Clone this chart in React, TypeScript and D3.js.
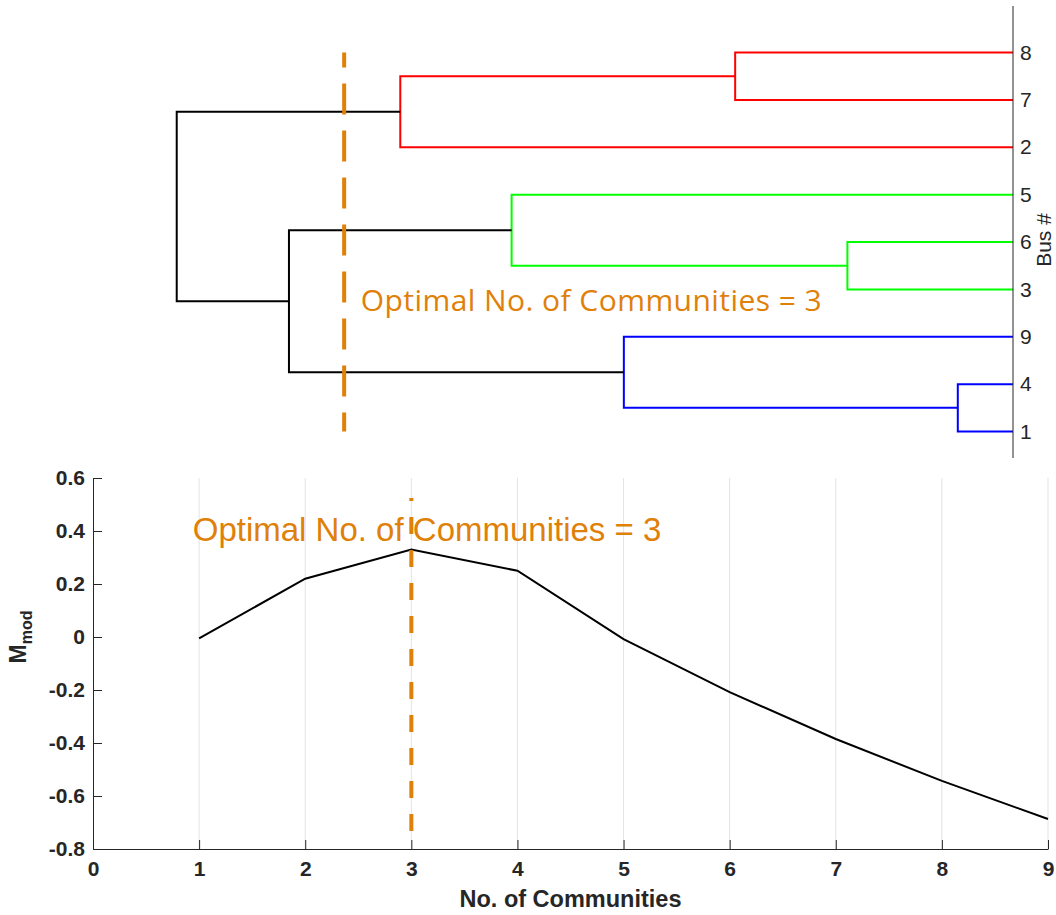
import { useRef, useEffect } from 'react';
import * as d3 from 'd3';

// dendrogram (top)
const leafOrder = ['8', '7', '2', '5', '6', '3', '9', '4', '1'];
const mergeA = ['4', '6', '8', '9', '5', 'm3', 'm5', 'm6'];
const mergeB = ['1', '3', '7', 'm1', 'm2', '2', 'm4', 'm7'];
const mergeHeight = [0.06, 0.18, 0.302, 0.423, 0.545, 0.666, 0.787, 0.909];
const cutHeight = 0.727;

// modularity curve (bottom)
const communities = [1, 2, 3, 4, 5, 6, 7, 8, 9];
const mmod = [-0.005, 0.22, 0.33, 0.25, -0.008, -0.208, -0.385, -0.543, -0.687];
const optimalK = 3;
const optimalLineRange = [0.525, -0.74];
const yTicks = [-0.8, -0.6, -0.4, -0.2, 0, 0.2, 0.4, 0.6];
const xTicks = [0, 1, 2, 3, 4, 5, 6, 7, 8, 9];

const annotation = 'Optimal No. of Communities = 3';

const clusterColors = ['#FF0000', '#00FF00', '#0000FF'];
const orange = '#DF8009';
const axisColor = '#262626';

export default function App() {
  const svgRef = useRef(null);

  useEffect(() => {
    const svg = d3.select(svgRef.current);
    svg.selectAll('*').remove();

    // ---------- dendrogram ----------
    const xDen = d3.scaleLinear().domain([0, 1]).range([1013, 93]);
    const yIdx = d3.scaleLinear().domain([0, 8]).range([52.5, 431.5]);
    const yLeaf = d3.scalePoint().domain(leafOrder).range([52.5, 431.5]);

    const nodes = {};
    leafOrder.forEach(l => {
      nodes[l] = { y: yLeaf(l), h: 0, leaves: [l] };
    });
    mergeA.forEach((a, i) => {
      const na = nodes[a];
      const nb = nodes[mergeB[i]];
      nodes['m' + (i + 1)] = {
        y: (na.y + nb.y) / 2,
        h: mergeHeight[i],
        leaves: na.leaves.concat(nb.leaves),
        a: na,
        b: nb,
      };
    });

    // colour clusters below the cut, in leaf order top to bottom
    const clusterOf = {};
    let cIdx = 0;
    leafOrder.forEach(l => {
      if (clusterOf[l] !== undefined) return;
      let best = null;
      Object.values(nodes).forEach(n => {
        if (n.h < cutHeight && n.leaves.includes(l) && (!best || n.h > best.h)) best = n;
      });
      best.leaves.forEach(x => (clusterOf[x] = cIdx));
      cIdx++;
    });

    const den = svg.append('g');
    mergeA.forEach((_, i) => {
      const n = nodes['m' + (i + 1)];
      const color = n.h < cutHeight ? clusterColors[clusterOf[n.leaves[0]]] : '#000';
      const p = d3.path();
      p.moveTo(xDen(n.a.h), n.a.y);
      p.lineTo(xDen(n.h), n.a.y);
      p.lineTo(xDen(n.h), n.b.y);
      p.lineTo(xDen(n.b.h), n.b.y);
      den.append('path')
        .attr('d', p.toString())
        .attr('fill', 'none')
        .attr('stroke', color)
        .attr('stroke-width', 2);
    });

    den.append('line')
      .attr('x1', xDen(0)).attr('x2', xDen(0))
      .attr('y1', 6).attr('y2', 458)
      .attr('stroke', axisColor).attr('stroke-width', 1);

    den.append('g')
      .attr('transform', `translate(${xDen(0)},0)`)
      .call(d3.axisRight(yLeaf).tickSize(0).tickPadding(7))
      .call(g => g.select('.domain').remove())
      .call(g => g.selectAll('text')
        .attr('font-family', '"Liberation Sans", Arial, sans-serif')
        .attr('font-size', 21)
        .attr('fill', axisColor));

    den.append('text')
      .attr('transform', `translate(1051,240) rotate(-90)`)
      .attr('text-anchor', 'middle')
      .attr('font-family', '"Liberation Sans", Arial, sans-serif')
      .attr('font-size', 21)
      .attr('fill', axisColor)
      .text('Bus #');

    den.append('line')
      .attr('x1', xDen(cutHeight)).attr('x2', xDen(cutHeight))
      .attr('y1', yLeaf(leafOrder[0])).attr('y2', yLeaf(leafOrder[leafOrder.length - 1]))
      .attr('stroke', orange).attr('stroke-width', 4)
      .attr('stroke-dasharray', '31 16')
      .attr('stroke-dashoffset', 16);

    den.append('text')
      .attr('x', xDen(0.709)).attr('y', yIdx(5.45))
      .attr('font-family', '"Open Sans", "Noto Sans", sans-serif')
      .attr('font-size', 30)
      .attr('textLength', 461)
      .attr('lengthAdjust', 'spacing')
      .attr('fill', orange)
      .text(annotation);

    // ---------- modularity plot ----------
    const x = d3.scaleLinear().domain([0, 9]).range([93, 1048]);
    const y = d3.scaleLinear().domain([-0.8, 0.6]).range([849, 478]);
    const bot = svg.append('g');

    bot.append('g')
      .selectAll('line')
      .data(xTicks.slice(1))
      .join('line')
      .attr('x1', d => x(d)).attr('x2', d => x(d))
      .attr('y1', y(0.6)).attr('y2', y(-0.8))
      .attr('stroke', '#E3E3E3').attr('stroke-width', 1);

    const styleAxis = g => {
      g.select('.domain').attr('stroke', axisColor);
      g.selectAll('.tick line').attr('stroke', axisColor);
      g.selectAll('text')
        .attr('font-family', '"Liberation Sans", Arial, sans-serif')
        .attr('font-weight', 'bold')
        .attr('font-size', 21)
        .attr('fill', axisColor);
    };

    bot.append('g')
      .attr('transform', `translate(0,${y(-0.8)})`)
      .call(d3.axisBottom(x).tickValues(xTicks).tickFormat(d => String(d))
        .tickSize(-9).tickSizeOuter(0).tickPadding(12))
      .call(styleAxis);

    bot.append('g')
      .attr('transform', `translate(${x(0)},0)`)
      .call(d3.axisLeft(y).tickValues(yTicks)
        .tickFormat(d => (d === 0 ? '0' : d.toFixed(1)))
        .tickSize(-9).tickSizeOuter(0).tickPadding(8))
      .call(styleAxis);

    const line = d3.line().x((d, i) => x(communities[i])).y(d => y(d));
    bot.append('path')
      .datum(mmod)
      .attr('d', line)
      .attr('fill', 'none')
      .attr('stroke', '#000')
      .attr('stroke-width', 2);

    bot.append('line')
      .attr('x1', x(optimalK)).attr('x2', x(optimalK))
      .attr('y1', y(optimalLineRange[0])).attr('y2', y(optimalLineRange[1]))
      .attr('stroke', orange).attr('stroke-width', 4)
      .attr('stroke-dasharray', '17 16')
      .attr('stroke-dashoffset', 14);

    bot.append('text')
      .attr('x', x(0.94)).attr('y', y(0.362))
      .attr('font-family', '"Liberation Sans", Arial, sans-serif')
      .attr('font-size', 33)
      .attr('fill', orange)
      .text(annotation);

    bot.append('text')
      .attr('x', (x(0) + x(9)) / 2).attr('y', 907)
      .attr('text-anchor', 'middle')
      .attr('font-family', '"Liberation Sans", Arial, sans-serif')
      .attr('font-weight', 'bold')
      .attr('font-size', 23.5)
      .attr('fill', axisColor)
      .text('No. of Communities');

    const yl = bot.append('text')
      .attr('transform', `translate(26,${y(0)}) rotate(-90)`)
      .attr('text-anchor', 'middle')
      .attr('font-family', '"Liberation Sans", Arial, sans-serif')
      .attr('font-weight', 'bold')
      .attr('font-size', 23)
      .attr('fill', axisColor);
    yl.append('tspan').text('M');
    yl.append('tspan').attr('font-size', 16).attr('dy', 6).text('mod');
  }, []);

  return (
    <svg
      ref={svgRef}
      width={1056}
      height={915}
      style={{ position: 'absolute', left: 0, top: 0, background: '#fff' }}
    />
  );
}
